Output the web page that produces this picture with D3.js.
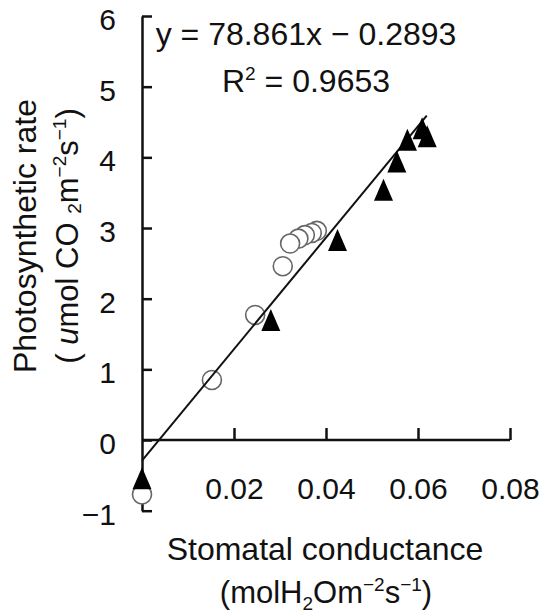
<!DOCTYPE html>
<html>
<head>
<meta charset="utf-8">
<script src="https://cdn.jsdelivr.net/npm/d3@7"></script>
<style>
  body { margin: 0; background: #fff; }
  text { font-family: "Liberation Sans", Arial, sans-serif; fill: #111; }
</style>
</head>
<body>
<div id="viz"></div>
<script>
// open circles (drawn right to left in the cluster so the left ones sit on top)
var open_x = [0, 0.0152, 0.0246, 0.0306, 0.0380, 0.0369, 0.0354, 0.0340, 0.0322];
var open_y = [-0.77, 0.85, 1.77, 2.46, 2.96, 2.93, 2.90, 2.85, 2.78];

// filled triangles
var tri_x = [0, 0.0280, 0.0425, 0.0525, 0.0554, 0.0577, 0.0609, 0.0620];
var tri_y = [-0.54, 1.70, 2.83, 3.54, 3.94, 4.25, 4.41, 4.30];

// trend line end points
var trend_x = [0, 0.0619];
var trend_y = [-0.29, 4.59];

var x_ticks = [0.02, 0.04, 0.06, 0.08];
var y_ticks = [-1, 0, 1, 2, 3, 4, 5, 6];

var equation_text = 'y = 78.861x \u2212 0.2893';
var r2_value = ' = 0.9653';

var width = 553,
    height = 614;

var svg = d3.select('#viz')
  .append('svg')
  .attr('width', width)
  .attr('height', height);

var x = d3.scaleLinear()
  .domain([0, 0.08])
  .range([142, 510]);

var y = d3.scaleLinear()
  .domain([-1, 6])
  .range([510.7, 16]);

var font_size = 30;

// y axis, ticks point inwards
var y_axis = d3.axisLeft(y)
  .tickValues(y_ticks)
  .tickSizeInner(-10)
  .tickSizeOuter(0)
  .tickPadding(26)
  .tickFormat(d3.format('d'));

var y_group = svg.append('g')
  .attr('transform', 'translate(' + x(0) + ',0)')
  .call(y_axis);

// x axis through zero
var x_axis = d3.axisBottom(x)
  .tickValues(x_ticks)
  .tickSizeInner(-12)
  .tickSizeOuter(0)
  .tickPadding(38)
  .tickFormat(d3.format('.2f'));

var x_group = svg.append('g')
  .attr('transform', 'translate(0,' + y(0) + ')')
  .call(x_axis);

[y_group, x_group].forEach(function(g){
  g.select('.domain')
    .attr('stroke', '#111')
    .attr('stroke-width', 2.5);
  g.selectAll('.tick line')
    .attr('stroke', '#111')
    .attr('stroke-width', 2.5);
  g.selectAll('.tick text')
    .style('font-size', font_size + 'px')
    .attr('fill', '#111');
});

// labels sit a little below their ticks
y_group.selectAll('.tick text')
  .attr('dy', '0.45em');

// x domain starts at the y axis
x_group.select('.domain')
  .attr('d', 'M' + x(0) + ',0H' + x(0.08));

// open circles
svg.append('g')
  .selectAll('circle')
  .data(d3.range(open_x.length))
  .enter()
  .append('circle')
  .attr('cx', function(i){ return x(open_x[i]); })
  .attr('cy', function(i){ return y(open_y[i]); })
  .attr('r', 9.5)
  .attr('fill', 'white')
  .attr('stroke', '#666')
  .attr('stroke-width', 1.6);

// trend line
svg.append('path')
  .datum(d3.range(trend_x.length))
  .attr('fill', 'none')
  .attr('stroke', '#111')
  .attr('stroke-width', 2)
  .attr('d', d3.line()
    .x(function(i){ return x(trend_x[i]); })
    .y(function(i){ return y(trend_y[i]); }));

// triangles
var tw = 19, th = 22;
svg.append('g')
  .selectAll('path')
  .data(d3.range(tri_x.length))
  .enter()
  .append('path')
  .attr('d', 'M0,' + (-th/2) + 'L' + (tw/2) + ',' + (th/2) + 'L' + (-tw/2) + ',' + (th/2) + 'Z')
  .attr('transform', function(i){
    return 'translate(' + x(tri_x[i]) + ',' + y(tri_y[i]) + ')';
  })
  .attr('fill', '#000');

// equation
svg.append('text')
  .attr('x', 306)
  .attr('y', 45)
  .attr('text-anchor', 'middle')
  .style('font-size', '32px')
  .text(equation_text);

var r2 = svg.append('text')
  .attr('x', 306)
  .attr('y', 92)
  .attr('text-anchor', 'middle')
  .style('font-size', '32px');
r2.append('tspan').text('R');
r2.append('tspan')
  .attr('dy', -12)
  .style('font-size', '19px')
  .text('2');
r2.append('tspan')
  .attr('dy', 12)
  .text(r2_value);

// y axis title
var y_title = svg.append('g')
  .attr('transform', 'translate(0,236) rotate(-90)');

y_title.append('text')
  .attr('x', 0)
  .attr('y', 36)
  .attr('text-anchor', 'middle')
  .style('font-size', '32px')
  .text('Photosynthetic rate');

var yt2 = y_title.append('text')
  .attr('x', 0)
  .attr('y', 78)
  .attr('text-anchor', 'middle')
  .style('font-size', '31px');
yt2.append('tspan').text('( ');
yt2.append('tspan').style('font-style', 'italic').text('u');
yt2.append('tspan').text('mol CO ');
yt2.append('tspan').attr('dy', 3).style('font-size', '19px').text('2');
yt2.append('tspan').attr('dy', -3).text('m');
yt2.append('tspan').attr('dy', -12).style('font-size', '19px').text('\u22122');
yt2.append('tspan').attr('dy', 12).text('s');
yt2.append('tspan').attr('dy', -12).style('font-size', '19px').text('\u22121');
yt2.append('tspan').attr('dy', 12).text(')');

// x axis title
svg.append('text')
  .attr('x', 325)
  .attr('y', 560)
  .attr('text-anchor', 'middle')
  .style('font-size', '32px')
  .text('Stomatal conductance');

var xt2 = svg.append('text')
  .attr('x', 326)
  .attr('y', 603)
  .attr('text-anchor', 'middle')
  .style('font-size', '31px');
xt2.append('tspan').text('(molH');
xt2.append('tspan').attr('dy', 7).style('font-size', '19px').text('2');
xt2.append('tspan').attr('dy', -7).text('Om');
xt2.append('tspan').attr('dy', -12).style('font-size', '19px').text('\u22122');
xt2.append('tspan').attr('dy', 12).text('s');
xt2.append('tspan').attr('dy', -12).style('font-size', '19px').text('\u22121');
xt2.append('tspan').attr('dy', 12).text(')');
</script>
</body>
</html>
